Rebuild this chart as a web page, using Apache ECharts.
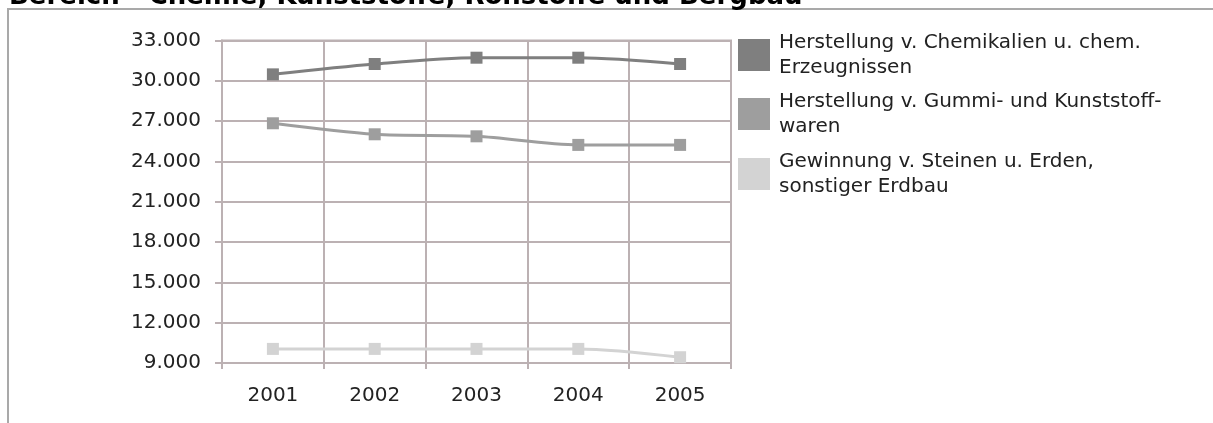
<!DOCTYPE html>
<html>
<head>
<meta charset="utf-8">
<script src="https://cdn.jsdelivr.net/npm/echarts@6/dist/echarts.min.js"></script>
<style>
html,body{margin:0;padding:0;background:#fff;}
#c{width:1213px;height:423px;}
</style>
</head>
<body>
<div id="c"></div>
<script>
const titleText = 'Bereich - Chemie, Kunststoffe, Rohstoffe und Bergbau';
const categories = ['2001', '2002', '2003', '2004', '2005'];
const seriesNames = [
  'Herstellung v. Chemikalien u. chem.\nErzeugnissen',
  'Herstellung v. Gummi- und Kunststoff-\nwaren',
  'Gewinnung v. Steinen u. Erden,\nsonstiger Erdbau'
];
const chemieValues = [30480, 31250, 31720, 31720, 31250];
const gummiValues = [26840, 26020, 25870, 25230, 25230];
const steineValues = [10050, 10050, 10050, 10050, 9430];
const yMin = 9000, yMax = 33000, yStep = 3000;

const colors = ['#7f7f7f', '#9e9e9e', '#d3d3d3'];
const gridColor = '#bcb1b3';
const font = 'DejaVu Sans';
const valuesList = [chemieValues, gummiValues, steineValues];
const legendTops = [15.5, 74.5, 134.5];

const chart = echarts.init(document.getElementById('c'));
chart.setOption({
  animation: false,
  backgroundColor: '#fff',
  title: {
    text: titleText,
    left: 9, top: -16, padding: 0,
    textStyle: {fontFamily: font, fontWeight: 'bold', fontSize: 26, color: '#000'}
  },
  graphic: [{
    type: 'rect', silent: true,
    shape: {x: 8, y: 9, width: 1300, height: 500},
    style: {fill: 'none', stroke: '#a9a9a9', lineWidth: 2}
  }],
  legend: seriesNames.map((n, i) => ({
    data: [{name: n, icon: 'rect'}],
    orient: 'vertical', left: 738, top: legendTops[i], padding: 0,
    itemWidth: 32, itemHeight: 32,
    selectedMode: false,
    textStyle: {fontFamily: font, fontSize: 20, color: '#222', lineHeight: 25, padding: [29, 0, 0, 4]}
  })),
  grid: {left: 222, top: 40.5, width: 509, height: 322.5, show: true, borderColor: gridColor, borderWidth: 2, containLabel: false},
  xAxis: {
    type: 'category', data: categories, boundaryGap: true,
    axisLine: {lineStyle: {color: gridColor, width: 2}},
    axisTick: {show: true, length: 6, lineStyle: {color: gridColor, width: 2}},
    splitLine: {show: true, lineStyle: {color: gridColor, width: 2}},
    axisLabel: {fontFamily: font, fontSize: 20, color: '#222', margin: 23}
  },
  yAxis: {
    type: 'value', min: yMin, max: yMax, interval: yStep,
    axisLine: {show: true, lineStyle: {color: gridColor, width: 2}},
    axisTick: {show: true, length: 7, lineStyle: {color: gridColor, width: 2}},
    splitLine: {show: true, lineStyle: {color: gridColor, width: 2}},
    axisLabel: {fontFamily: font, fontSize: 20, color: '#222', margin: 21,
      formatter: v => String(v).replace(/\B(?=(\d{3})+(?!\d))/g, '.')}
  },
  series: seriesNames.map((n, i) => ({
    name: n, type: 'line', data: valuesList[i],
    smooth: 0.3, symbol: 'rect', symbolSize: 12, showAllSymbol: true,
    itemStyle: {color: colors[i]},
    lineStyle: {color: colors[i], width: 3}
  }))
});
</script>
</body>
</html>
